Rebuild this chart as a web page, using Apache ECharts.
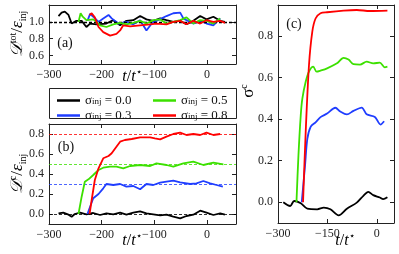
<!DOCTYPE html>
<html><head><meta charset="utf-8">
<script src="https://cdn.jsdelivr.net/npm/echarts@6/dist/echarts.min.js"></script>
<style>html,body{margin:0;padding:0;background:#fff}#c{width:399px;height:254px}</style>
</head><body><div id="c"></div><script>
const sigmaLabels = ['0.0', '0.3', '0.5', '0.8'];
const seriesNames = ['s00', 's03', 's05', 's08'];
const refLevelsB = [0.0, 0.3, 0.5, 0.8];
const refLevelA = 1.0;
const ticksAx = [-300, -200, -100, 0];
const ticksAy = [0.6, 0.8, 1.0];
const ticksBy = [0.0, 0.2, 0.4, 0.6, 0.8];
const ticksCx = [-300, -150, 0];
const ticksCy = [0.0, 0.2, 0.4, 0.6, 0.8];

// panel (a): D_tot / eps_inj
const aBlack = [[-282,1.069],[-276,1.110],[-270,1.122],[-263,1.082],[-257,0.980],[-254,0.959],[-248,1.012],[-238,1.012],[-229,0.939],[-222,0.980],[-210,0.971],[-191,0.980],[-178,1.020],[-165,0.959],[-153,1.012],[-140,1.020],[-127,1.069],[-115,1.029],[-102,1.012],[-89,1.041],[-77,1.020],[-64,1.000],[-51,1.012],[-39,0.971],[-26,1.012],[-13,1.069],[-1,1.029],[12,1.061],[25,1.012],[34,1.000]];
const aGreen = [[-244,1.000],[-240,1.102],[-236,1.061],[-229,1.020],[-216,1.029],[-210,1.000],[-203,0.959],[-191,0.939],[-178,0.971],[-165,0.988],[-153,0.971],[-140,0.988],[-127,1.012],[-115,0.980],[-102,1.020],[-89,1.029],[-77,0.980],[-64,1.000],[-51,1.020],[-39,1.053],[-26,0.980],[-13,1.020],[-1,1.012],[12,0.980],[25,1.041]];
const aBlue = [[-227,1.012],[-222,1.094],[-216,1.061],[-206,1.000],[-197,1.041],[-187,1.082],[-181,1.041],[-168,0.980],[-153,1.000],[-140,0.971],[-127,1.020],[-115,0.898],[-105,0.980],[-96,1.012],[-77,1.069],[-64,1.102],[-51,1.110],[-45,1.041],[-39,1.020],[-26,0.980],[-13,1.012],[-1,0.980],[12,0.959],[25,1.041]];
const aRed = [[-223,1.082],[-219,1.102],[-213,1.053],[-206,0.939],[-197,0.878],[-184,0.837],[-172,0.857],[-165,0.898],[-159,0.959],[-146,0.947],[-127,0.959],[-108,0.971],[-96,0.980],[-77,0.971],[-64,1.000],[-51,1.012],[-39,0.971],[-26,1.012],[-13,0.980],[-1,1.020],[12,1.000],[25,1.012],[34,0.988]];

// panel (b): D_c / eps_inj
const bBlack = [[-282,0.007],[-273,0.013],[-263,-0.007],[-257,-0.027],[-251,0.000],[-241,0.013],[-229,-0.003],[-216,0.010],[-203,-0.010],[-191,0.007],[-178,-0.003],[-165,0.013],[-153,-0.007],[-140,0.013],[-127,0.027],[-115,0.007],[-102,-0.003],[-89,-0.013],[-77,-0.007],[-64,-0.027],[-51,-0.043],[-39,-0.020],[-26,-0.007],[-13,0.033],[-1,0.013],[12,-0.010],[25,0.007],[34,-0.007]];
const bGreen = [[-244,0.000],[-238,0.173],[-232,0.323],[-225,0.347],[-216,0.390],[-206,0.440],[-197,0.463],[-184,0.473],[-172,0.473],[-159,0.457],[-146,0.480],[-127,0.490],[-108,0.480],[-96,0.507],[-77,0.490],[-64,0.473],[-45,0.507],[-26,0.523],[-7,0.490],[12,0.513],[31,0.497]];
const bBlue = [[-227,0.000],[-222,0.073],[-216,0.157],[-206,0.200],[-197,0.257],[-191,0.300],[-178,0.290],[-165,0.300],[-153,0.273],[-140,0.280],[-127,0.247],[-115,0.300],[-102,0.290],[-89,0.313],[-77,0.323],[-64,0.333],[-51,0.317],[-32,0.300],[-20,0.307],[-7,0.330],[6,0.307],[18,0.290],[30,0.273]];
const bRed = [[-223,0.000],[-219,0.140],[-213,0.340],[-206,0.457],[-197,0.557],[-187,0.580],[-181,0.607],[-172,0.673],[-165,0.723],[-156,0.740],[-143,0.750],[-127,0.767],[-108,0.767],[-99,0.757],[-89,0.747],[-77,0.773],[-64,0.800],[-51,0.813],[-39,0.790],[-26,0.800],[-13,0.790],[-1,0.813],[12,0.790],[25,0.800]];

// panel (c): sigma_c
const cBlack = [[-284,0.000],[-263,-0.018],[-251,0.006],[-231,-0.005],[-211,-0.031],[-181,-0.034],[-161,-0.026],[-141,-0.034],[-116,-0.063],[-91,-0.031],[-61,-0.002],[-41,0.031],[-26,0.050],[-11,0.034],[9,0.023],[19,0.015],[32,0.024]];
const cGreen = [[-244,0.000],[-238,0.224],[-231,0.418],[-226,0.500],[-216,0.580],[-206,0.629],[-193,0.653],[-183,0.629],[-171,0.634],[-151,0.645],[-121,0.669],[-101,0.695],[-86,0.687],[-71,0.665],[-51,0.663],[-31,0.677],[-11,0.669],[9,0.672],[24,0.650],[32,0.653]];
const cBlue = [[-228,0.000],[-218,0.176],[-211,0.305],[-201,0.363],[-186,0.385],[-171,0.410],[-151,0.427],[-126,0.455],[-111,0.437],[-91,0.423],[-71,0.440],[-46,0.456],[-31,0.424],[-6,0.411],[11,0.374],[22,0.390]];
const cRed = [[-224,0.000],[-216,0.337],[-206,0.660],[-196,0.821],[-186,0.885],[-171,0.910],[-151,0.915],[-101,0.923],[-61,0.926],[-21,0.921],[32,0.923]];

const colors = ['#000000', '#1f3dff', '#3ce000', '#ff0000'];
const SERIF = 'Liberation Serif';
const AX = '#222';

function fmtX(v) { return String(v).replace('-', '\u2212'); }
function fmtY(v) { return v.toFixed(1); }

function axis(kind, grid, min, max, ticks, pos, showLabel) {
  return {
    type: 'value', gridIndex: grid, min: min, max: max, position: pos,
    axisLine: { show: true, onZero: false, lineStyle: { color: AX, width: 1 } },
    axisTick: { show: true, inside: true, length: 4, customValues: ticks, lineStyle: { color: AX, width: 1 } },
    axisLabel: { show: showLabel, customValues: ticks, formatter: kind === 'x' ? fmtX : fmtY,
      fontFamily: SERIF, fontSize: 12, color: '#222', margin: kind === 'x' ? 5 : 5 },
    splitLine: { show: false }
  };
}

const xAxes = [
  axis('x', 0, -300, 55, ticksAx, 'bottom', true),
  axis('x', 0, -300, 55, ticksAx, 'top', false),
  axis('x', 1, -300, 55, ticksAx, 'bottom', true),
  axis('x', 1, -300, 55, ticksAx, 'top', false),
  axis('x', 2, -300, 52, ticksCx, 'bottom', true),
  axis('x', 2, -300, 52, ticksCx, 'top', false)
];
const yAxes = [
  axis('y', 0, 0.5, 1.2, ticksAy, 'left', true),
  axis('y', 0, 0.5, 1.2, ticksAy, 'right', false),
  axis('y', 1, -0.1, 0.9, ticksBy, 'left', true),
  axis('y', 1, -0.1, 0.9, ticksBy, 'right', false),
  axis('y', 2, -0.1, 0.95, ticksCy, 'left', true),
  axis('y', 2, -0.1, 0.95, ticksCy, 'right', false)
];

const panelA = [aBlack, aBlue, aGreen, aRed];
const panelB = [bBlack, bBlue, bGreen, bRed];
const panelC = [cBlack, cBlue, cGreen, cRed];

const series = [];
panelA.forEach((d, i) => {
  const s = { name: seriesNames[i], type: 'line', xAxisIndex: 0, yAxisIndex: 0, data: d, showSymbol: false,
    lineStyle: { color: colors[i], width: 1.8 }, itemStyle: { color: colors[i] }, z: 3 + i };
  if (i === 0) s.markLine = { silent: true, symbol: 'none', label: { show: false },
    lineStyle: { color: '#000', type: [3, 2], width: 1.3 }, data: [{ yAxis: refLevelA }] };
  series.push(s);
});
panelB.forEach((d, i) => {
  series.push({ name: seriesNames[i], type: 'line', xAxisIndex: 2, yAxisIndex: 2, data: d, showSymbol: false,
    lineStyle: { color: colors[i], width: 1.8 }, itemStyle: { color: colors[i] }, z: 3 + i,
    markLine: { silent: true, symbol: 'none', label: { show: false },
      lineStyle: { color: colors[i], type: [3, 2], width: 0.8 }, data: [{ yAxis: refLevelsB[i] }] } });
});
panelC.forEach((d, i) => {
  series.push({ name: seriesNames[i], type: 'line', xAxisIndex: 4, yAxisIndex: 4, data: d, showSymbol: false,
    smooth: 0.3, lineStyle: { color: colors[i], width: 1.8 }, itemStyle: { color: colors[i] }, z: 3 + i });
});

const legRich = {
  s: { fontFamily: SERIF, fontSize: 13, color: '#111', lineHeight: 11 },
  sub: { fontFamily: SERIF, fontSize: 9, color: '#111', verticalAlign: 'bottom', lineHeight: 11, padding: [5, 0, 0, 0] },
  t: { fontFamily: SERIF, fontSize: 13, color: '#111', lineHeight: 11 }
};
function legFmt(name) {
  const i = seriesNames.indexOf(name);
  return '{s|\u03c3}{sub|inj}{t| = ' + sigmaLabels[i] + '}';
}
function legend(data, left) {
  return { data: data, left: left, top: 92, orient: 'vertical', itemGap: 0, itemWidth: 23, itemHeight: 2.5,
    icon: 'rect', padding: 0, formatter: legFmt, selectedMode: false,
    textStyle: { rich: legRich, padding: [0, 0, 0, 0] } };
}

const mainRich = (sz) => ({
  d: { fontFamily: SERIF, fontStyle: 'italic', fontSize: sz, lineHeight: 20, color: '#111' },
  e: { fontFamily: SERIF, fontStyle: 'italic', fontSize: sz, lineHeight: 20, color: '#111' },
  n: { fontFamily: SERIF, fontSize: sz, lineHeight: 20, color: '#111' },
  sup: { fontFamily: SERIF, fontSize: 10, lineHeight: 12, verticalAlign: 'top', color: '#111' },
  sub: { fontFamily: SERIF, fontSize: 10, lineHeight: 12, verticalAlign: 'bottom', color: '#111' }
});

function rotText(x, y, text, sz) {
  return { type: 'text', x: x, y: y, rotation: Math.PI / 2, silent: true,
    style: { text: text, rich: mainRich(sz), align: 'center', verticalAlign: 'middle' } };
}
function plainText(x, y, text, sz) {
  return { type: 'text', x: x, y: y, silent: true,
    style: { text: text, rich: mainRich(sz), align: 'center', verticalAlign: 'middle' } };
}
const tLabel = '{d|t}{n|/}{d|t}{sup|\u22c6}';

const option = {
  animation: false,
  backgroundColor: '#fff',
  grid: [
    { left: 49, top: 5, width: 187, height: 59 },
    { left: 49, top: 124, width: 187, height: 100 },
    { left: 278, top: 5, width: 116, height: 218 }
  ],
  xAxis: xAxes,
  yAxis: yAxes,
  legend: [legend(['s00', 's03'], 57), legend(['s05', 's08'], 153)],
  series: series,
  graphic: [
    { type: 'rect', shape: { x: 49.5, y: 88.5, width: 187, height: 30 }, style: { fill: 'none', stroke: AX, lineWidth: 1 }, silent: true },
    rotText(18, 34, '{d|\ud835\udc9f}{sup|tot}{n|/}{e|\u03b5}{sub|inj}', 17),
    rotText(18, 174, '{d|\ud835\udc9f}{sup|c}{n|/}{e|\u03b5}{sub|inj}', 17),
    rotText(249, 91, '{n|\u03c3}{sup|c}', 17),
    plainText(132, 77, tLabel, 16),
    plainText(132, 241, tLabel, 16),
    plainText(345, 241, tLabel, 16),
    { type: 'text', x: 65, y: 43, silent: true, style: { text: '(a)', font: '14px "Liberation Serif"', fill: '#111', align: 'center', verticalAlign: 'middle' } },
    { type: 'text', x: 66, y: 147, silent: true, style: { text: '(b)', font: '14px "Liberation Serif"', fill: '#111', align: 'center', verticalAlign: 'middle' } },
    { type: 'text', x: 294, y: 24, silent: true, style: { text: '(c)', font: '14px "Liberation Serif"', fill: '#111', align: 'center', verticalAlign: 'middle' } }
  ]
};
const chart = echarts.init(document.getElementById('c'), null, { renderer: 'canvas' });
chart.setOption(option);
</script></body></html>
